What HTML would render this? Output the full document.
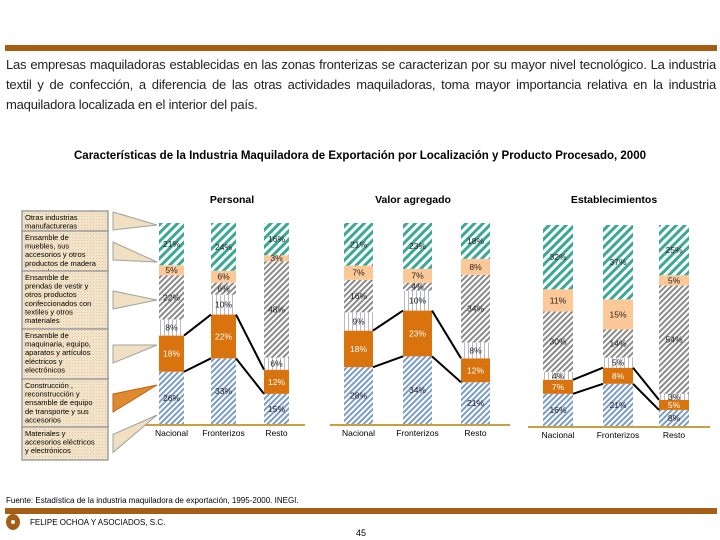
<!DOCTYPE html>
<html><head><meta charset="utf-8">
<style>
body{margin:0;background:#fff;}
#wrap{position:relative;width:720px;height:540px;overflow:hidden;font-family:"Liberation Sans",sans-serif;}
.t{position:absolute;white-space:nowrap;}
</style></head>
<body>
<div id="wrap">
<div class="t" style="left:5px;top:45px;width:712px;height:6px;background:#a65e14"></div>
<div class="t" style="left:6px;top:55px;font-size:13px;line-height:20px;color:#222;white-space:normal;width:710px;text-align:justify;letter-spacing:-0.2px">Las empresas maquiladoras establecidas en las zonas fronterizas se caracterizan por su mayor nivel tecnológico. La industria textil y de confección, a diferencia de las otras actividades maquiladoras, toma mayor importancia relativa en la industria maquiladora localizada en el interior del país.</div>
<div class="t" style="left:0;width:720px;text-align:center;top:150px;font-size:11.5px;font-weight:bold;color:#000">Características de la Industria Maquiladora de Exportación por Localización y Producto Procesado, 2000</div>
<div class="t" style="left:6px;top:496px;font-size:8px;color:#000">Fuente: Estadística de la industria maquiladora de exportación, 1995-2000. INEGI.</div>
<div class="t" style="left:5px;top:508px;width:712px;height:6px;background:#a65e14"></div>
<div class="t" style="left:6px;top:514px;width:14px;height:16px;border-radius:50%;background:#a65e14"><div style="position:absolute;left:5px;top:6px;width:4px;height:4px;border-radius:50%;background:#fff"></div></div>
<div class="t" style="left:30px;top:518px;font-size:8px;color:#000">FELIPE OCHOA Y ASOCIADOS, S.C.</div>
<div class="t" style="left:356px;top:528px;font-size:9px;color:#000">45</div>
<svg id="chart" width="720" height="540" style="position:absolute;left:0;top:0">
<defs>
<pattern id="pTeal" width="6" height="6" patternUnits="userSpaceOnUse" patternTransform="rotate(45)"><rect width="6" height="6" fill="#fff"/><rect width="3" height="6" fill="#3aa896"/></pattern>
<pattern id="pGray" width="4" height="4" patternUnits="userSpaceOnUse" patternTransform="rotate(45)"><rect width="4" height="4" fill="#fff"/><rect width="2" height="4" fill="#8a8a8a"/></pattern>
<pattern id="pBlue" width="4" height="4" patternUnits="userSpaceOnUse" patternTransform="rotate(45)"><rect width="4" height="4" fill="#fff"/><rect width="2" height="4" fill="#7a9cc6"/></pattern>
<pattern id="pVert" width="4" height="4" patternUnits="userSpaceOnUse"><rect width="4" height="4" fill="#fff"/><rect width="1" height="4" fill="#b8b8c8"/></pattern>
<pattern id="pLeg" width="3" height="3" patternUnits="userSpaceOnUse"><rect width="3" height="3" fill="#f2e3c8"/><rect width="1" height="1" fill="#dcc8a6"/></pattern>
</defs>
</svg>
</div>
<script>
// bottom-to-top order: materiales, construccion, maquinaria, prendas, muebles, otras
const categories=["Nacional","Fronterizos","Resto"];
const panels=["Personal","Valor agregado","Establecimientos"];
const personalValues=[[26,18,8,22,5,21],[33,22,10,6,6,24],[15,12,6,48,3,16]];
const valorValues=[[28,18,9,16,7,21],[34,23,10,4,7,23],[21,12,8,34,8,18]];
const estabValues=[[16,7,4,30,11,32],[21,8,5,14,15,37],[8,5,3,54,5,25]];
const legendLabels=[["Otras industrias","manufactureras"],["Ensamble de","muebles, sus","accesorios y otros","productos de madera","y metal"],["Ensamble de","prendas de vestir y","otros productos","confeccionados con","textiles y otros","materiales"],["Ensamble de","maquinaria, equipo,","aparatos y artículos","eléctricos y","electrónicos"],["Construcción ,","reconstrucción y","ensamble de equipo","de transporte y sus","accesorios"],["Materiales y","accesorios eléctricos","y electrónicos"]];

const svg=document.getElementById('chart');
const NS='http://www.w3.org/2000/svg';
function mk(tag,attrs){const e=document.createElementNS(NS,tag);for(const k in attrs)e.setAttribute(k,attrs[k]);svg.appendChild(e);return e;}
const fills=["url(#pBlue)","#d9730d","url(#pVert)","url(#pGray)","#fcc898","url(#pTeal)"];
const segNames=["materiales","construccion","maquinaria","prendas","muebles","otras"];
const panelData=[personalValues,valorValues,estabValues];
const barX=[[159,211,264],[344,403,461],[543,603,659]];
const barW=[25,29,30];
const top0=[223,223,225], bot0=[424,424,426];
const titleX=[232,413,614];
const baseLine=[[144,305],[330,510],[528,710]];

panelData.forEach((vals,p)=>{
  const tt=mk('text',{x:titleX[p],y:203,'font-size':10.5,'font-weight':'bold','text-anchor':'middle','font-family':'Liberation Sans, sans-serif'});
  tt.textContent=panels[p];
  
  
  const bl=mk('line',{x1:baseLine[p][0],x2:baseLine[p][1],y1:bot0[p]+1,y2:bot0[p]+1,stroke:'#c8a040','stroke-width':2});
  
  
  const oranges=[];
  vals.forEach((v,b)=>{
    const sum=v.reduce((a,c)=>a+c,0);
    const H=bot0[p]-top0[p];
    let y=bot0[p];
    v.forEach((val,s)=>{
      const h=val/sum*H;
      const r=mk('rect',{x:barX[p][b],y:y-h,width:barW[p],height:h,fill:fills[s]});
      
      
      if(s===1)oranges.push([barX[p][b],barX[p][b]+barW[p],y-h,y]);
      const lb=mk('text',{x:barX[p][b]+barW[p]/2,y:y-h/2+3,'font-size':8.5,'text-anchor':'middle',fill:s===1?'#fff':'#222','font-family':'Liberation Sans, sans-serif'});
      lb.textContent=val+'%';
      
      
      y-=h;
    });
    const cl=mk('text',{x:barX[p][b]+barW[p]/2,y:bot0[p]+12,'font-size':8.5,'text-anchor':'middle','font-family':'Liberation Sans, sans-serif'});
    cl.textContent=categories[b];
    
    
  });
  for(let i=0;i<2;i++){
    const a=oranges[i],c=oranges[i+1];
    [2,3].forEach(k=>{
      const ln=mk('line',{x1:a[1],y1:a[k],x2:c[0],y2:c[k],stroke:'#000','stroke-width':2});
      
      
    });
  }
});

// legend
const legTops=[211,231,271,329,379,427,460];
const legTargets=[225,262,300,345,385,415];
legendLabels.forEach((lines,i)=>{
  const y0=legTops[i],y1=legTops[i+1];
  const r=mk('rect',{x:22,y:y0,width:86,height:y1-y0,fill:'url(#pLeg)',stroke:'#a0a0a0','stroke-width':1.5});
  
  
  lines.forEach((ln,j)=>{
    const t=mk('text',{x:25,y:y0+9+j*8.6,'font-size':7.5,'font-family':'Liberation Sans, sans-serif'});
    t.textContent=ln;
    
    
  });
  const cy=(y0+y1)/2, ty=legTargets[i];
  const w=mk('polygon',{points:`113,${cy-9} 113,${cy+9} 157,${ty}`,fill:i===4?'#e08a30':'#f0dfc0',stroke:i===4?'#c06010':'#a0a0a0','stroke-width':1});
  
  
});
</script>
</body></html>
